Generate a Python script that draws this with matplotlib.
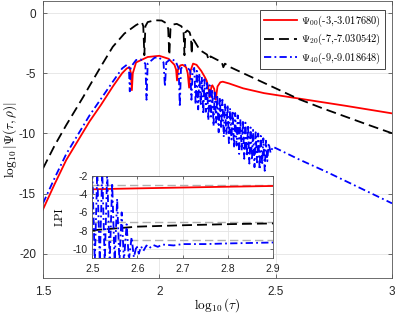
import matplotlib
matplotlib.use('Agg')
import matplotlib.pyplot as plt
from matplotlib.font_manager import FontProperties
import numpy as np

plt.rcParams['font.family'] = ['Liberation Sans', 'DejaVu Sans']
plt.rcParams['mathtext.fontset'] = 'cm'
plt.rcParams['axes.unicode_minus'] = False

# ---- main panel data ----
red_x = [1.50, 1.55, 1.60, 1.65, 1.70, 1.75, 1.80, 1.84, 1.86, 1.872, 1.878, 1.882, 1.886,
         1.90, 1.95, 2.00, 2.04, 2.065, 2.072, 2.076, 2.080, 2.09, 2.10, 2.115, 2.122, 2.128,
         2.134, 2.145, 2.16, 2.18, 2.195, 2.203, 2.210, 2.217, 2.224, 2.228, 2.236, 2.2425,
         2.250, 2.262, 2.2725, 2.30, 2.36, 2.45, 2.60, 2.80, 3.00]
red_y = [-16.3, -14.2, -12.2, -10.6, -9.0, -7.6, -6.1, -5.0, -4.6, -4.5, -5.0, -6.4, -5.0,
         -4.1, -3.65, -3.55, -3.8, -4.3, -4.7, -5.6, -4.7, -4.35, -4.3, -4.5, -5.0, -6.2,
         -4.8, -4.2, -4.3, -4.8, -5.3, -5.6, -6.1, -7.0, -6.1, -6.0, -6.3, -7.2,
         -6.1, -5.75, -5.7, -5.85, -6.25, -6.65, -7.1, -7.7, -8.33]

black_x = [1.50, 1.55, 1.60, 1.65, 1.673, 1.70, 1.75, 1.80, 1.85, 1.90, 1.925, 1.931, 1.9356,
           1.940, 1.95, 1.98, 2.01, 2.03, 2.038, 2.043, 2.048, 2.06, 2.075, 2.095, 2.104, 2.108,
           2.112, 2.12, 2.13, 2.136, 2.139, 2.142, 2.15, 2.174, 2.205, 2.212, 2.220, 2.25, 2.268,
           2.275, 2.282, 2.30, 2.40, 2.50, 2.60, 2.70, 2.80, 2.90, 3.00]
black_y = [-12.9, -11.0, -9.3, -7.7, -6.96, -6.05, -4.4, -2.8, -1.7, -1.0, -0.75, -1.1, -3.5,
           -1.1, -0.75, -0.6, -0.62, -0.85, -1.3, -3.5, -1.3, -0.95, -0.9, -1.1, -1.5, -3.5,
           -1.6, -1.45, -1.6, -2.0, -3.4, -2.1, -2.3, -3.07, -3.45, -3.9, -3.6, -3.9, -4.05,
           -4.5, -4.2, -4.45, -5.35, -6.25, -7.15, -7.9, -8.6, -9.3, -9.98]

blue_x = [1.50, 1.55, 1.60, 1.65, 1.70, 1.75, 1.80, 1.84, 1.86, 1.869, 1.873, 1.877,
          1.90, 1.92, 1.94, 1.945, 1.95, 1.98, 2.00, 2.018, 2.024, 2.03, 2.05, 2.07,
          2.083, 2.088, 2.093, 2.11, 2.133, 2.138, 2.143,
          2.150, 2.156, 2.161, 2.167, 2.172, 2.178, 2.183, 2.189, 2.194, 2.200,
          2.205, 2.211, 2.216, 2.222, 2.227, 2.233, 2.238, 2.244, 2.249, 2.255,
          2.260, 2.266, 2.271, 2.277, 2.282, 2.288, 2.293, 2.299, 2.304, 2.310,
          2.315, 2.321, 2.326, 2.332, 2.337, 2.343, 2.348, 2.354, 2.359, 2.365,
          2.370, 2.376, 2.381, 2.387, 2.392, 2.398, 2.403, 2.409, 2.414, 2.420,
          2.425, 2.431, 2.436, 2.442, 2.447, 2.453, 2.458, 2.464, 2.470, 2.478,
          2.488, 2.60, 2.72, 2.86, 3.00]
blue_y = [-15.8, -13.7, -11.7, -10.1, -8.5, -7.1, -5.7, -4.6, -4.3, -4.4, -6.5, -4.5,
          -3.9, -3.85, -4.2, -7.2, -4.2, -3.7, -3.7, -4.1, -6.1, -4.1, -3.8, -4.0,
          -4.6, -7.8, -4.6, -4.3, -4.8, -7.2, -4.8,
          -4.55, -7.6, -4.8, -8.0, -5.0, -7.7, -5.3, -8.4, -5.5, -8.2,
          -5.8, -8.9, -6.0, -8.6, -6.3, -9.4, -6.6, -9.1, -6.8, -9.9,
          -7.0, -9.6, -7.2, -10.3, -7.5, -10.1, -7.6, -10.8, -7.9, -10.5,
          -8.1, -11.2, -8.3, -11.0, -8.5, -11.7, -8.8, -11.4, -8.9, -12.1,
          -9.1, -11.9, -9.3, -12.5, -9.5, -12.2, -9.7, -12.8, -9.9, -12.4,
          -10.0, -13.0, -10.2, -12.6, -10.4, -13.1, -10.6, -12.3, -10.8, -11.6,
          -11.1, -12.15, -13.2, -14.5, -15.8]

labels = [r'$\Psi_{00}$(-3,-3.017680)', r'$\Psi_{20}$(-7,-7.030542)', r'$\Psi_{40}$(-9,-9.018648)']

# ---- inset data (LPI) ----
lpi_red_x = [2.50, 2.60, 2.70, 2.80, 2.90]
lpi_red_y = [-3.48, -3.38, -3.29, -3.20, -3.12]
lpi_black_x = [2.50, 2.55, 2.60, 2.70, 2.80, 2.90]
lpi_black_y = [-7.95, -7.75, -7.55, -7.40, -7.28, -7.20]
lpi_blue_x = [2.500, 2.5055, 2.511, 2.5165, 2.522, 2.5275, 2.533, 2.5385, 2.544, 2.5495,
              2.555, 2.560, 2.565, 2.570, 2.576, 2.581, 2.587, 2.592, 2.598, 2.603,
              2.608, 2.613, 2.620, 2.626, 2.635, 2.645, 2.655, 2.68, 2.70, 2.75,
              2.80, 2.85, 2.90]
lpi_blue_y = [-1.5, -11.5, -1.5, -11.5, -1.5, -11.5, -1.5, -11.5, -2.8, -11.5,
              -4.5, -11.5, -6.0, -11.3, -7.3, -11.2, -8.7, -10.9, -9.6, -10.5,
              -9.7, -10.2, -9.6, -9.9, -9.55, -9.75, -9.5, -9.6, -9.45, -9.45,
              -9.38, -9.33, -9.28]
lpi_ref = [-3.017680, -7.030542, -9.018648]

frame = '#555555'
tickc = '#262626'
gridc = '#e4e4e4'

fig = plt.figure(figsize=(3.95, 3.15), dpi=100)
ax = fig.add_axes([43 / 395, 37 / 315, 349 / 395, 277 / 315])

ax.plot(red_x, red_y, color='#ff0000', lw=1.3, label=labels[0])
ax.plot(black_x, black_y, color='black', lw=1.3, linestyle=(0, (5.5, 2.8)), label=labels[1])
ax.plot(blue_x, blue_y, color='#0000ff', lw=1.3, linestyle=(0, (4, 1.8, 1, 1.8)), label=labels[2])

ax.set_xlim(1.5, 3)
ax.set_ylim(-22, 1)
ax.set_xticks([1.5, 2, 2.5, 3])
ax.set_xticklabels(['1.5', '2', '2.5', '3'])
ax.set_yticks([-20, -15, -10, -5, 0])
ax.grid(True, color=gridc, lw=0.6)
ax.set_axisbelow(True)
ax.tick_params(direction='in', top=True, right=True, length=3, width=0.6,
               color=frame, labelcolor=tickc, labelsize=8.5)
ax.tick_params(axis='x', pad=6)
ax.tick_params(axis='y', pad=5)
for s in ax.spines.values():
    s.set_color(frame)
    s.set_linewidth(0.6)

ax.set_ylabel(r'$\log_{10}|\Psi(\tau,\rho)|$', fontsize=9.5)
ax.yaxis.set_label_coords(-0.07, 0.5)
ax.set_xlabel(r'$\log_{10}(\tau)$', fontsize=9.5)
ax.xaxis.set_label_coords(0.5, -0.065)

leg = ax.legend(loc='upper right', bbox_to_anchor=(385 / 395, 1 - 10 / 315),
                bbox_transform=fig.transFigure, borderaxespad=0,
                prop=FontProperties(family='cmr10', size=7.5),
                handlelength=3.2, handletextpad=0.4, labelspacing=0.3,
                borderpad=0.35, fancybox=False, framealpha=1)
leg.get_frame().set_edgecolor(tickc)
leg.get_frame().set_linewidth(0.6)

# ---- inset ----
ins = fig.add_axes([92.3 / 395, (315 - 258.3) / 315, 180.7 / 395, 82.6 / 315])
ins.set_facecolor('white')
for r in lpi_ref:
    ins.axhline(r, color='#b0b0b0', lw=1.0, linestyle=(0, (6, 3)))
ins.plot(lpi_red_x, lpi_red_y, color='#ff0000', lw=1.3)
ins.plot(lpi_black_x, lpi_black_y, color='black', lw=1.3, linestyle=(0, (5.5, 2.8)))
ins.plot(lpi_blue_x, lpi_blue_y, color='#0000ff', lw=1.3, linestyle=(0, (4, 1.8, 1, 1.8)))
ins.set_xlim(2.5, 2.9)
ins.set_ylim(-11, -2)
ins.set_xticks([2.5, 2.6, 2.7, 2.8, 2.9])
ins.set_yticks([-10, -8, -6, -4, -2])
ins.grid(True, color=gridc, lw=0.6)
ins.set_axisbelow(True)
ins.tick_params(direction='in', top=True, right=True, length=2.5, width=0.6,
                color=frame, labelcolor=tickc, labelsize=7.5)
ins.tick_params(axis='x', pad=4)
ins.tick_params(axis='y', pad=3)
for s in ins.spines.values():
    s.set_color(frame)
    s.set_linewidth(0.6)
ins.set_ylabel('LPI', fontproperties=FontProperties(family='cmr10', size=8))
ins.yaxis.set_label_coords(-0.155, 0.5)

fig.savefig('out.png', dpi=100)
